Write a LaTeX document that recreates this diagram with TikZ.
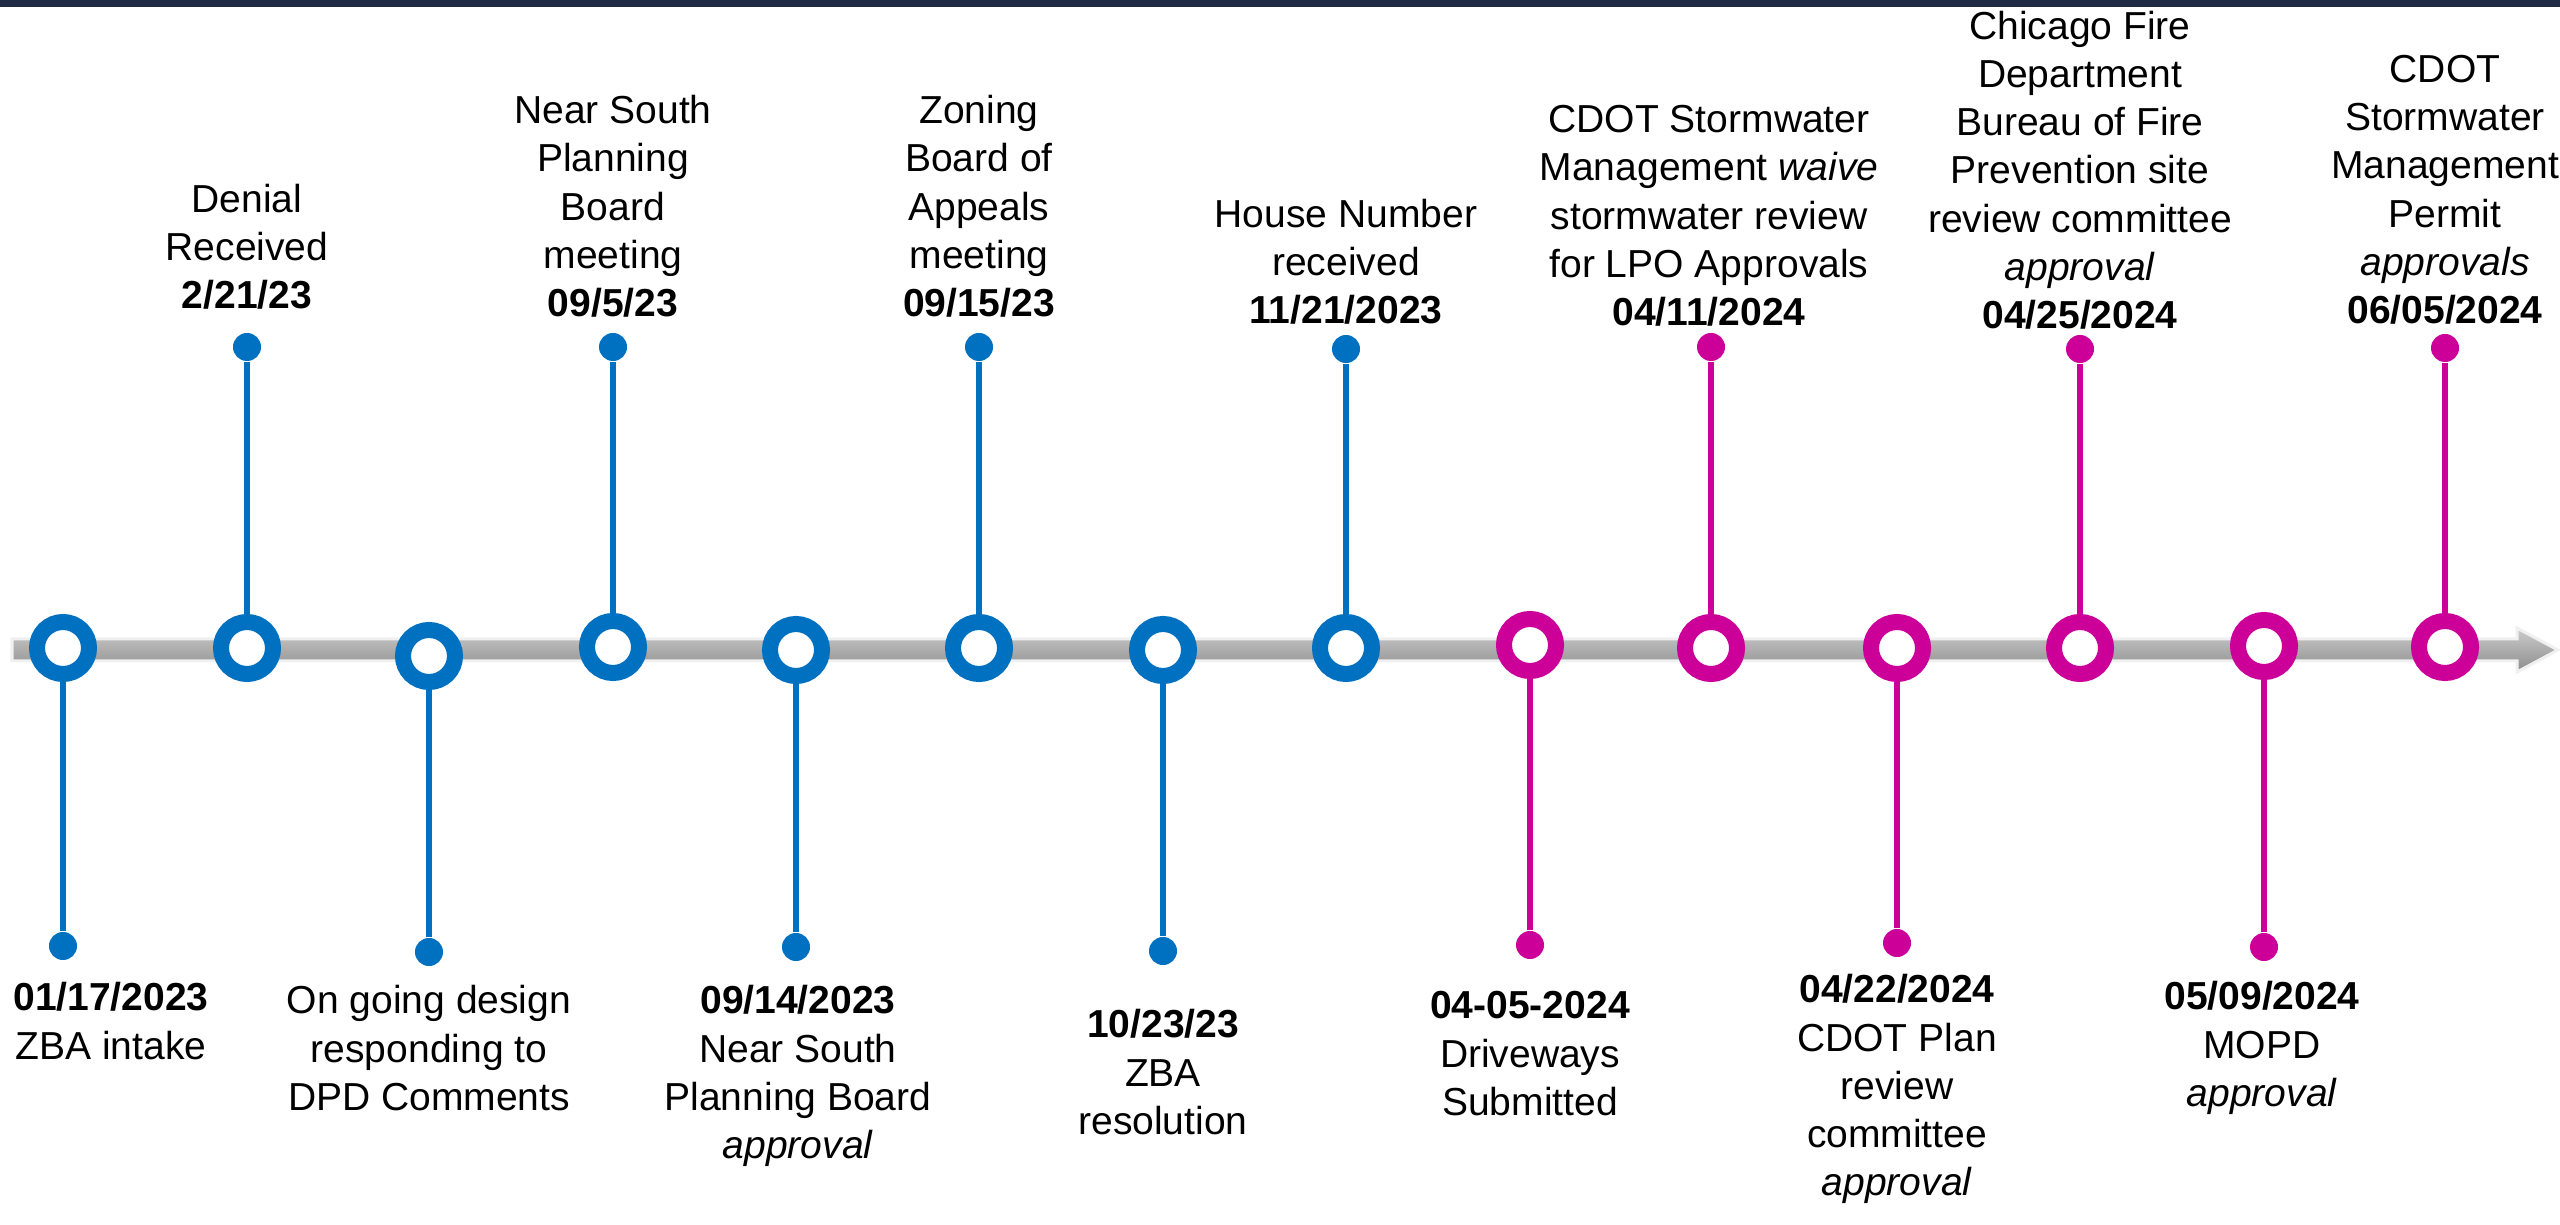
\documentclass[tikz,border=0pt]{standalone}
\usepackage{fontspec}
\setmainfont{Liberation Sans}
\usepackage{tikz}
\usetikzlibrary{calc}

\definecolor{tlblue}{HTML}{0070C0}
\definecolor{tlpink}{HTML}{CC0099}
\definecolor{topbar}{HTML}{1F2A44}

\tikzset{
  tring/.style={circle, draw=#1, fill=white, line width=0.16cm, minimum size=0.52cm, inner sep=0pt},
  tdot/.style={circle, fill=#1, minimum size=0.28cm, inner sep=0pt},
  tstem/.style={draw=#1, line width=0.06cm},
  evtext/.style={align=center, inner sep=0pt, font=\fontsize{11.1}{13.7}\selectfont},
}

\begin{document}
\begin{tikzpicture}[x=0.01cm, y=-0.01cm]
            \useasboundingbox (0,0) rectangle (2560,1225);
            \fill[topbar] (0,0) rectangle (2560,7);
            
            % time axis
            \shade[top color=black!20, bottom color=black!45, draw=black!6, line width=0.03cm]
                (12,639) -- (2517,639) -- (2517,628) -- (2558,650) -- (2517,672) -- (2517,661) -- (12,661) -- cycle;
            
            % 2023
            \node[tring=tlblue] (r1) at (63,648) {};
            \node[tdot=tlblue] (d1) at (63,946) {};
            \draw[tstem=tlblue] (r1) -- (d1);
            \node[evtext, anchor=north] (t1) at (111,982) {\textbf{01/17/2023}\\ZBA intake};
            
            \node[tring=tlblue] (r2) at (247,648) {};
            \node[tdot=tlblue] (d2) at (247,347) {};
            \draw[tstem=tlblue] (r2) -- (d2);
            \node[evtext, anchor=south] (t2) at (247,310) {Denial\\Received\\\textbf{2/21/23}};
            
            \node[tring=tlblue] (r3) at (429,656) {};
            \node[tdot=tlblue] (d3) at (429,952) {};
            \draw[tstem=tlblue] (r3) -- (d3);
            \node[evtext, anchor=north] (t3) at (429,985) {On going design\\responding to\\DPD Comments};
            
            \node[tring=tlblue] (r4) at (613,647) {};
            \node[tdot=tlblue] (d4) at (613,347) {};
            \draw[tstem=tlblue] (r4) -- (d4);
            \node[evtext, anchor=south] (t4) at (613,318) {Near South\\Planning\\Board\\meeting\\\textbf{09/5/23}};
            
            \node[tring=tlblue] (r5) at (796,650) {};
            \node[tdot=tlblue] (d5) at (796,947) {};
            \draw[tstem=tlblue] (r5) -- (d5);
            \node[evtext, anchor=north] (t5) at (798,985) {\textbf{09/14/2023}\\Near South\\Planning Board\\\textit{approval}};
            
            \node[tring=tlblue] (r6) at (979,648) {};
            \node[tdot=tlblue] (d6) at (979,347) {};
            \draw[tstem=tlblue] (r6) -- (d6);
            \node[evtext, anchor=south] (t6) at (979,318) {Zoning\\Board of\\Appeals\\meeting\\\textbf{09/15/23}};
            
            \node[tring=tlblue] (r7) at (1163,650) {};
            \node[tdot=tlblue] (d7) at (1163,951) {};
            \draw[tstem=tlblue] (r7) -- (d7);
            \node[evtext, anchor=north] (t7) at (1163,1009) {\textbf{10/23/23}\\ZBA\\resolution};
            
            \node[tring=tlblue] (r8) at (1346,648) {};
            \node[tdot=tlblue] (d8) at (1346,349) {};
            \draw[tstem=tlblue] (r8) -- (d8);
            \node[evtext, anchor=south] (t8) at (1346,325) {House Number\\received\\\textbf{11/21/2023}};
            
            % 2024
            \node[tring=tlpink] (r9) at (1530,645) {};
            \node[tdot=tlpink] (d9) at (1530,945) {};
            \draw[tstem=tlpink] (r9) -- (d9);
            \node[evtext, anchor=north] (t9) at (1530,991) {\textbf{04-05-2024}\\Driveways\\Submitted};
            
            \node[tring=tlpink] (r10) at (1711,648) {};
            \node[tdot=tlpink] (d10) at (1711,347) {};
            \draw[tstem=tlpink] (r10) -- (d10);
            \node[evtext, anchor=south] (t10) at (1709,327) {CDOT Stormwater\\Management \textit{waive}\\stormwater review\\for LPO Approvals\\\textbf{04/11/2024}};
            
            \node[tring=tlpink] (r11) at (1897,648) {};
            \node[tdot=tlpink] (d11) at (1897,943) {};
            \draw[tstem=tlpink] (r11) -- (d11);
            \node[evtext, anchor=north] (t11) at (1897,974) {\textbf{04/22/2024}\\CDOT Plan\\review\\committee\\\textit{approval}};
            
            \node[tring=tlpink] (r12) at (2080,648) {};
            \node[tdot=tlpink] (d12) at (2080,349) {};
            \draw[tstem=tlpink] (r12) -- (d12);
            \node[evtext, anchor=south] (t12) at (2080,330) {Chicago Fire\\Department\\Bureau of Fire\\Prevention site\\review committee\\\textit{approval}\\\textbf{04/25/2024}};
            
            \node[tring=tlpink] (r13) at (2264,646) {};
            \node[tdot=tlpink] (d13) at (2264,947) {};
            \draw[tstem=tlpink] (r13) -- (d13);
            \node[evtext, anchor=north] (t13) at (2262,981) {\textbf{05/09/2024}\\MOPD\\\textit{approval}};
            
            \node[tring=tlpink] (r14) at (2445,647) {};
            \node[tdot=tlpink] (d14) at (2445,348) {};
            \draw[tstem=tlpink] (r14) -- (d14);
            \node[evtext, anchor=south] (t14) at (2445,325) {CDOT\\Stormwater\\Management\\Permit\\\textit{approvals}\\\textbf{06/05/2024}};
            
        \end{tikzpicture}
\end{document}
